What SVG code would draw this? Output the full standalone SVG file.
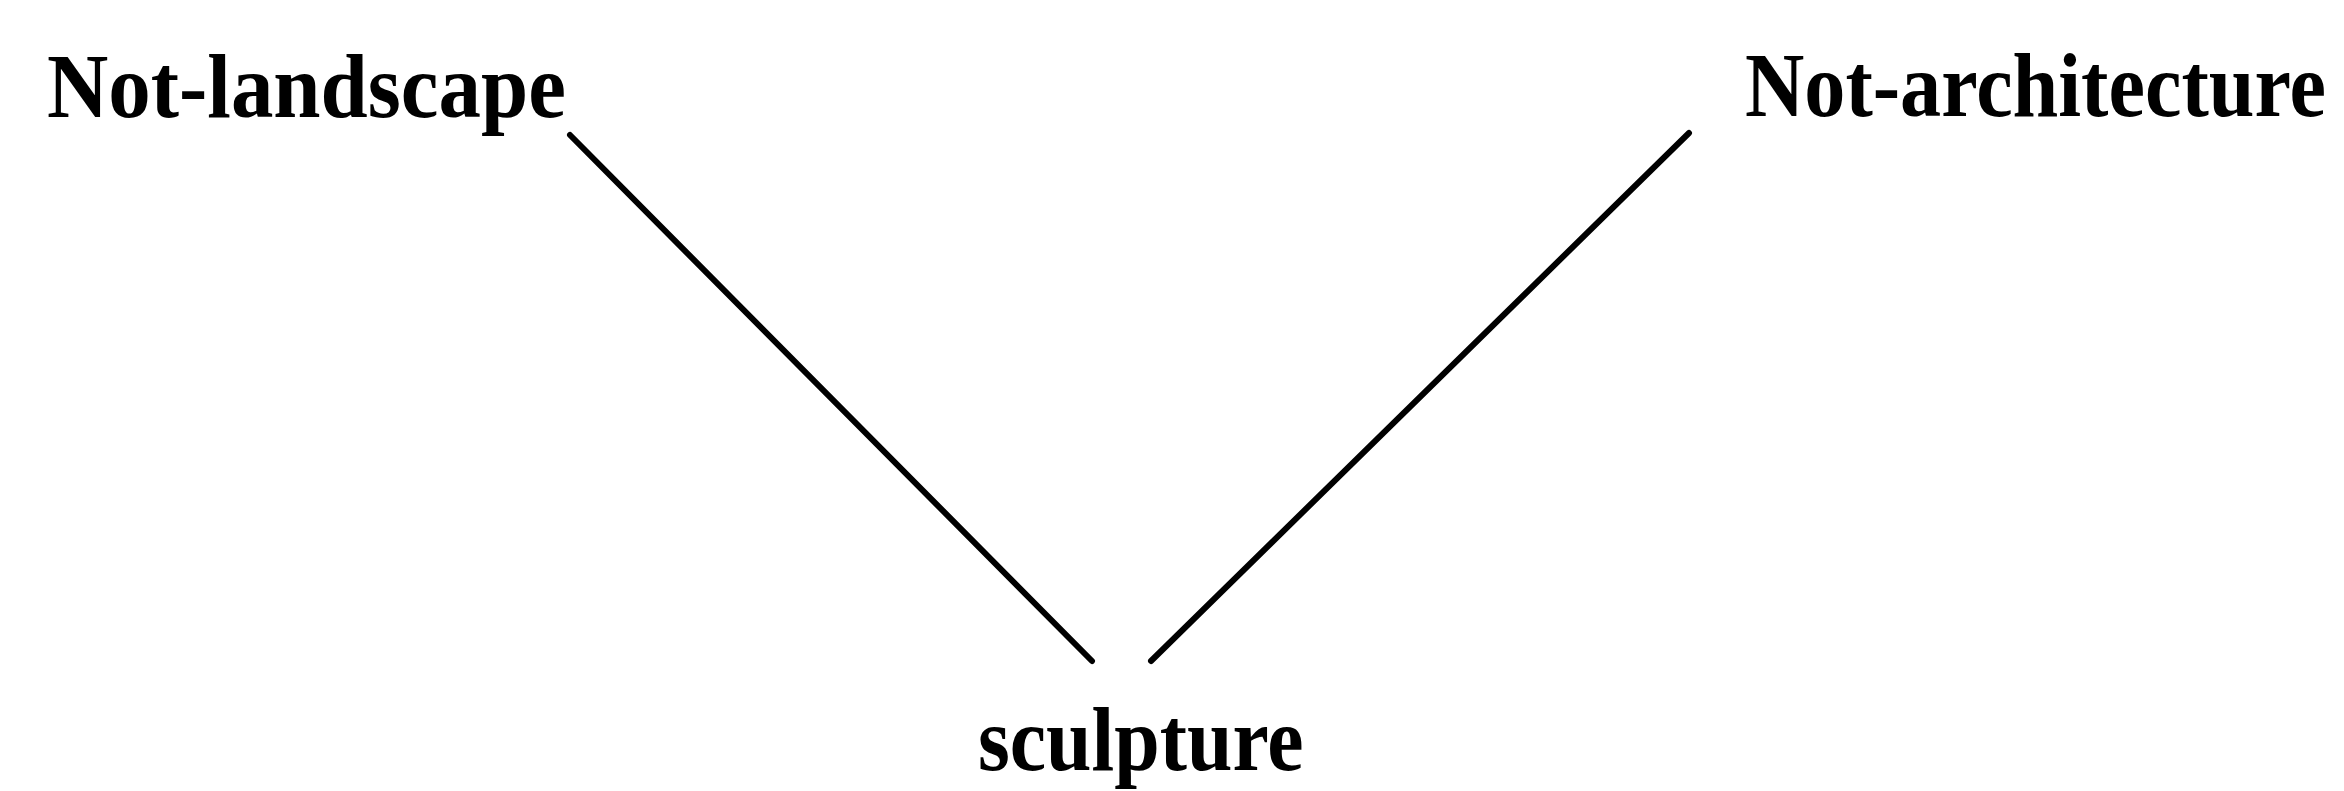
<svg xmlns="http://www.w3.org/2000/svg" width="2344" height="791" viewBox="0 0 2344 791">
<style>
.lbl{font-family:"Liberation Serif","Times New Roman",serif;font-size:92px;font-weight:bold;fill:#000;}
.edge{stroke:#000;stroke-width:6;stroke-linecap:round;fill:none;}
</style>
<rect width="2344" height="791" fill="#fff"/>
<g id="connectors">
<line class="edge" x1="570" y1="135" x2="1092" y2="661"/>
<line class="edge" x1="1689" y1="133" x2="1151" y2="661"/>
</g>
<g id="node-not-landscape"><text class="lbl" transform="translate(47,117) scale(0.923,1)" x="0" y="0">Not-landscape</text></g>
<g id="node-not-architecture"><text class="lbl" transform="translate(1745,116) scale(0.893,1)" x="0" y="0">Not-architecture</text></g>
<g id="node-sculpture"><text class="lbl" transform="translate(978,770) scale(0.889,1)" x="0" y="0">sculpture</text></g>
</svg>
